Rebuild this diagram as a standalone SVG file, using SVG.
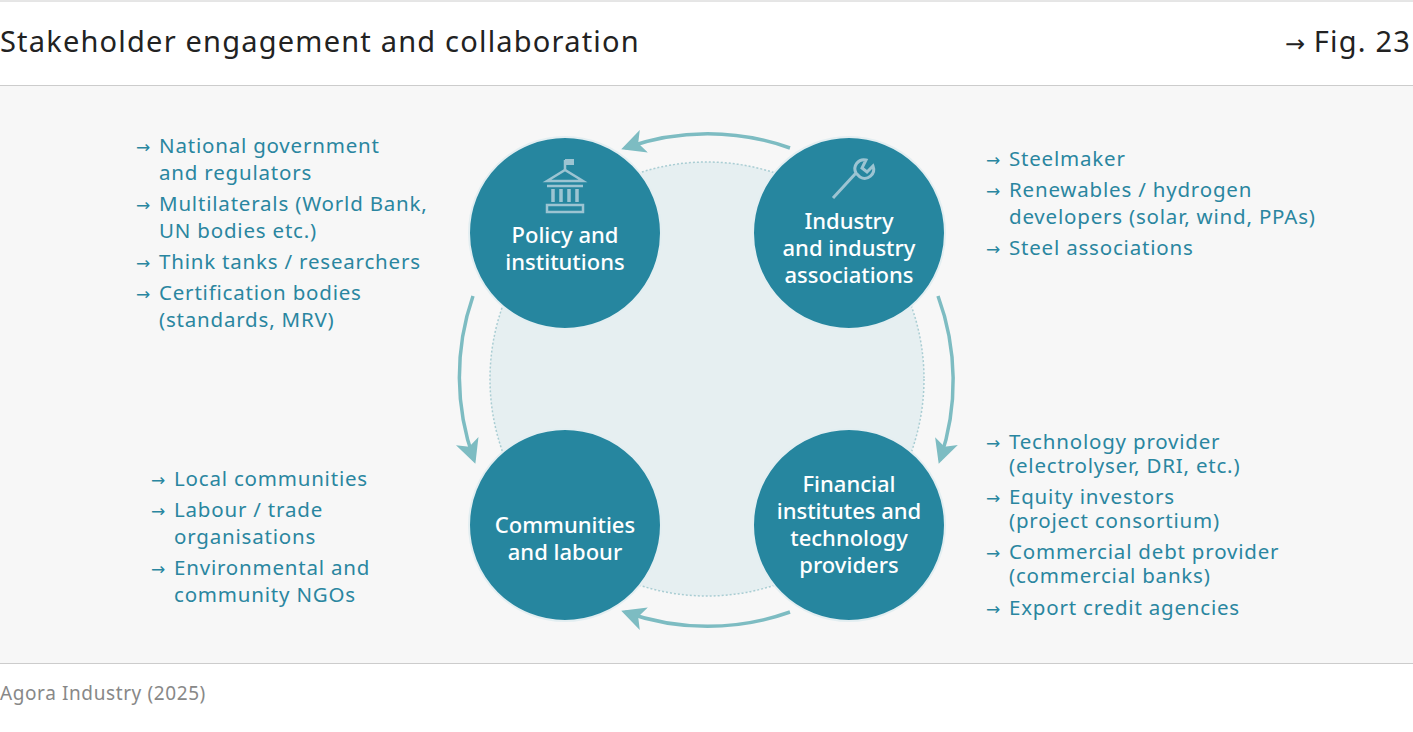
<svg xmlns="http://www.w3.org/2000/svg" width="1413" height="732" viewBox="0 0 1413 732">
<defs>
<style>
.t{font-family:"Noto Sans","Liberation Sans",sans-serif;font-size:20.5px;fill:#2a86a0;letter-spacing:0.8px}
.a{font-family:"DejaVu Sans",sans-serif;font-size:17px;letter-spacing:0}
.n{font-family:"Noto Sans","Liberation Sans",sans-serif;font-size:22px;fill:#fff;text-anchor:middle;font-weight:500}
.node{fill:#26869f;stroke:#e3eef1;stroke-width:2}
.arc{fill:none;stroke:#7dbcc2;stroke-width:3.5}
.ic{fill:none;stroke:#9cc4d2;stroke-width:3}
.h{font-family:"Noto Sans","Liberation Sans",sans-serif;font-size:29px;fill:#222;letter-spacing:1.2px}
</style>
<marker id="a2" viewBox="0 0 12 12" refX="10" refY="6" markerWidth="24" markerHeight="24" orient="auto" markerUnits="userSpaceOnUse">
<path d="M0,0 L12,6 L0,12 L3,6 Z" fill="#7dbcc2"/>
</marker>
</defs>
<rect width="1413" height="732" fill="#fff"/>
<line x1="0" y1="1" x2="1413" y2="1" stroke="#ccc"/>
<text class="h" x="0" y="52">Stakeholder engagement and collaboration</text>
<text class="h" x="1411" y="52" text-anchor="end"><tspan class="a" style="font-size:24px">→</tspan> Fig. 23</text>
<rect x="0" y="85" width="1413" height="578" fill="#f7f7f7"/>
<line x1="0" y1="85.5" x2="1413" y2="85.5" stroke="#ccc"/>
<line x1="0" y1="663.5" x2="1413" y2="663.5" stroke="#ccc"/>
<text x="0" y="700" style="font-family:'Noto Sans','Liberation Sans',sans-serif;font-size:19px;fill:#888;letter-spacing:0.6px">Agora Industry (2025)</text>
<circle cx="707" cy="379" r="217" fill="#e6eff1" stroke="#a9cdd3" stroke-width="1.5" stroke-dasharray="2 2"/>
<g id="connectors">
<path class="arc" d="M790,148 A245,245 0 0 0 625,148" marker-end="url(#a2)"/>
<path class="arc" d="M938,296 A245,245 0 0 1 940,460" marker-end="url(#a2)"/>
<path class="arc" d="M790,612 A245,245 0 0 1 625,612" marker-end="url(#a2)"/>
<path class="arc" d="M473,296 A245,245 0 0 0 474,460" marker-end="url(#a2)"/>
</g>
<g id="policy">
<circle class="node" cx="565" cy="233" r="96"/>
<g stroke="#9cc4d2" fill="none" stroke-width="2.5">
<line x1="565" y1="170" x2="565" y2="160"/>
<rect x="565" y="159" width="9" height="6" fill="#9cc4d2" stroke="none"/>
<path d="M547,181 L565,170 L583,181 Z"/>
<line x1="547" y1="186" x2="583" y2="186"/>
<line x1="553" y1="189" x2="553" y2="202" stroke-width="3.5"/>
<line x1="561" y1="189" x2="561" y2="202" stroke-width="3.5"/>
<line x1="569" y1="189" x2="569" y2="202" stroke-width="3.5"/>
<line x1="577" y1="189" x2="577" y2="202" stroke-width="3.5"/>
<rect x="547" y="205" width="36" height="7"/>
</g>
<text class="n" x="565" y="243">Policy and</text>
<text class="n" x="565" y="270">institutions</text>
</g>
<g id="industry">
<circle class="node" cx="849" cy="233" r="96"/>
<path class="ic" d="M833,198 L856,173 M856,173 A9,9 0 0 1 866,160 L862,168 L867,172 L873,166 A9,9 0 0 1 860,177 Z"/>
<text class="n" x="849" y="229">Industry</text>
<text class="n" x="849" y="256">and industry</text>
<text class="n" x="849" y="283">associations</text>
</g>
<g id="communities">
<circle class="node" cx="565" cy="525" r="96"/>
<text class="n" x="565" y="533">Communities</text>
<text class="n" x="565" y="560">and labour</text>
</g>
<g id="financial">
<circle class="node" cx="849" cy="525" r="96"/>
<text class="n" x="849" y="492">Financial</text>
<text class="n" x="849" y="519">institutes and</text>
<text class="n" x="849" y="546">technology</text>
<text class="n" x="849" y="573">providers</text>
</g>
<g id="list-policy">
<text class="t" x="136" y="153"><tspan class="a">→</tspan><tspan x="159">National government</tspan></text>
<text class="t" x="159" y="180">and regulators</text>
<text class="t" x="136" y="211"><tspan class="a">→</tspan><tspan x="159">Multilaterals (World Bank,</tspan></text>
<text class="t" x="159" y="238">UN bodies etc.)</text>
<text class="t" x="136" y="269"><tspan class="a">→</tspan><tspan x="159">Think tanks / researchers</tspan></text>
<text class="t" x="136" y="300"><tspan class="a">→</tspan><tspan x="159">Certification bodies</tspan></text>
<text class="t" x="159" y="327">(standards, MRV)</text>
</g>
<g id="list-industry">
<text class="t" x="986" y="166"><tspan class="a">→</tspan><tspan x="1009">Steelmaker</tspan></text>
<text class="t" x="986" y="197"><tspan class="a">→</tspan><tspan x="1009">Renewables / hydrogen</tspan></text>
<text class="t" x="1009" y="224">developers (solar, wind, PPAs)</text>
<text class="t" x="986" y="255"><tspan class="a">→</tspan><tspan x="1009">Steel associations</tspan></text>
</g>
<g id="list-communities">
<text class="t" x="151" y="486"><tspan class="a">→</tspan><tspan x="174">Local communities</tspan></text>
<text class="t" x="151" y="517"><tspan class="a">→</tspan><tspan x="174">Labour / trade</tspan></text>
<text class="t" x="174" y="544">organisations</text>
<text class="t" x="151" y="575"><tspan class="a">→</tspan><tspan x="174">Environmental and</tspan></text>
<text class="t" x="174" y="602">community NGOs</text>
</g>
<g id="list-financial">
<text class="t" x="986" y="449"><tspan class="a">→</tspan><tspan x="1009">Technology provider</tspan></text>
<text class="t" x="1009" y="473">(electrolyser, DRI, etc.)</text>
<text class="t" x="986" y="504"><tspan class="a">→</tspan><tspan x="1009">Equity investors</tspan></text>
<text class="t" x="1009" y="528">(project consortium)</text>
<text class="t" x="986" y="559"><tspan class="a">→</tspan><tspan x="1009">Commercial debt provider</tspan></text>
<text class="t" x="1009" y="583">(commercial banks)</text>
<text class="t" x="986" y="615"><tspan class="a">→</tspan><tspan x="1009">Export credit agencies</tspan></text>
</g>
</svg>
